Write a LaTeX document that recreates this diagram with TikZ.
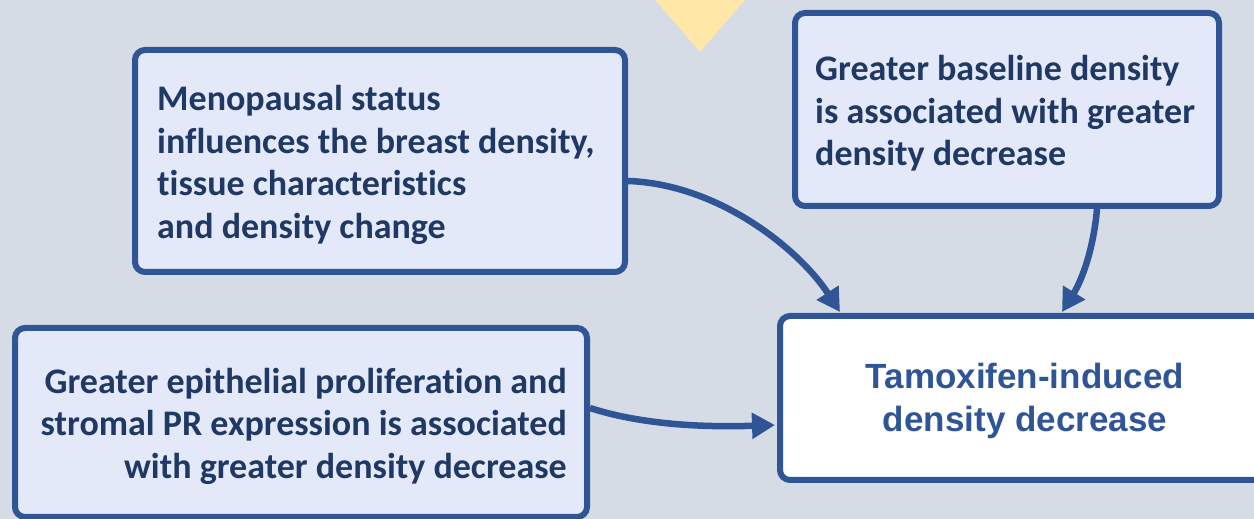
\documentclass[tikz,border=0pt]{standalone}
\usepackage{fontspec}
\setmainfont{Carlito}[Ligatures=NoCommon]
\newfontfamily\arialfont{Liberation Sans}
\usetikzlibrary{arrows.meta}
\definecolor{bgc}{HTML}{D6DCE5}
\definecolor{boxf}{HTML}{E3E9F8}
\definecolor{bordc}{HTML}{2F5597}
\definecolor{txtc}{HTML}{203864}
\definecolor{tric}{HTML}{FFE7A8}
\newcommand{\tstrut}{\rule{0pt}{33pt}}
\begin{document}
\begin{tikzpicture}[x=1pt,y=1pt,
  box/.style={draw=bordc, line width=6pt, fill=boxf, rounded corners=10pt, inner sep=0pt},
  txt/.style={text=txtc, font=\fontsize{36}{42.5}\selectfont\bfseries, inner sep=0pt},
  mainbox/.style={box, fill=white, text=bordc,
    font=\arialfont\fontsize{35}{42.5}\selectfont\bfseries},
  conn/.style={draw=bordc, line width=6.5pt, -{Triangle[length=23pt,width=25pt]}}]
\useasboundingbox (0,0) rectangle (1254,519);
\clip (0,0) rectangle (1254,519);
\fill[bgc] (0,0) rectangle (1254,519);
\fill[tric] (650,525) -- (750,525) -- (700,467) -- cycle;

\node[box, minimum width=490pt, minimum height=222pt] (menop) at (380,358) {};
\node[txt, align=left, anchor=west] (menoptxt) at ([xshift=25pt]menop.west)
  {\tstrut Menopausal status\\influences the breast density,\\tissue characteristics\\and density change};
\node[box, minimum width=424pt, minimum height=193pt] (base) at (1007,409.5) {};
\node[txt, align=left, anchor=west] (basetxt) at ([xshift=23pt]base.west)
  {\tstrut Greater baseline density\\is associated with greater\\density decrease};
\node[box, minimum width=572pt, minimum height=189pt] (epi) at (301,96.5) {};
\node[txt, align=right, anchor=east] (epitxt) at ([xshift=-23pt]epi.east)
  {\tstrut Greater epithelial proliferation and\\stromal PR expression is associated\\with greater density decrease};
\node[mainbox, align=center, minimum width=490pt, minimum height=164pt] (tam) at (1025,121)
  {\rule{0pt}{31pt}Tamoxifen-induced\\density decrease};

\draw[conn] ([yshift=-20pt]menop.east) to[out=-2, in=123, out distance=92pt, in distance=73pt] ([xshift=-185pt,yshift=1pt]tam.north);
\draw[conn] ([xshift=90pt]base.south) to[out=-95, in=58, out distance=40pt, in distance=38pt] ([xshift=37pt,yshift=1pt]tam.north);
\draw[conn] ([yshift=14.5pt]epi.east) to[out=-18, in=182, out distance=60pt, in distance=60pt] ([xshift=-2pt,yshift=-27pt]tam.west);
\end{tikzpicture}
\end{document}
